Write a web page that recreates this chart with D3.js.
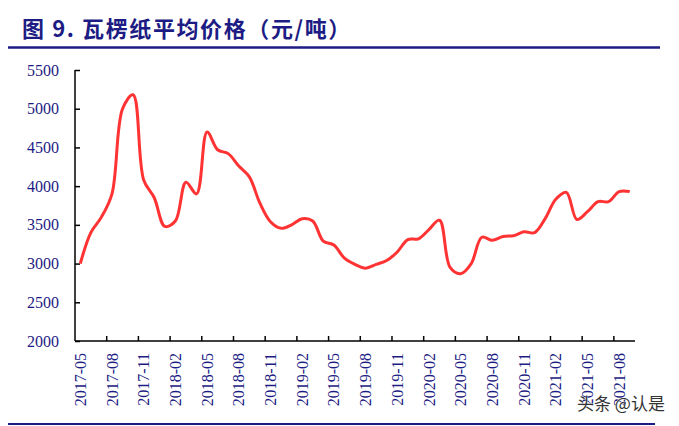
<!DOCTYPE html>
<html>
<head>
<meta charset="utf-8">
<script src="https://cdn.jsdelivr.net/npm/d3@7"></script>
<style>
  body { margin: 0; background: #fff; }
  svg { display: block; }
</style>
</head>
<body>
<div id="chart"></div>
<script>
// monthly average price of corrugated paper, yuan / ton
const months = [
  "2017-05","2017-06","2017-07","2017-08","2017-09","2017-10","2017-11","2017-12",
  "2018-01","2018-02","2018-03","2018-04","2018-05","2018-06","2018-07","2018-08",
  "2018-09","2018-10","2018-11","2018-12","2019-01","2019-02","2019-03","2019-04",
  "2019-05","2019-06","2019-07","2019-08","2019-09","2019-10","2019-11","2019-12",
  "2020-01","2020-02","2020-03","2020-04","2020-05","2020-06","2020-07","2020-08",
  "2020-09","2020-10","2020-11","2020-12","2021-01","2021-02","2021-03","2021-04",
  "2021-05","2021-06","2021-07","2021-08","2021-09"
];
const prices = [
  3000, 3400, 3600, 3900, 5000, 5180, 4080, 3850,
  3480, 3550, 4050, 3900, 4700, 4470, 4420, 4260,
  4120, 3780, 3540, 3455, 3500, 3580, 3550, 3290,
  3240, 3070, 2990, 2940, 2990, 3040, 3150, 3310,
  3320, 3440, 3560, 2950, 2870, 3000, 3340, 3300,
  3350, 3360, 3410, 3400, 3580, 3830, 3920, 3570,
  3670, 3800, 3800, 3930, 3930
];
const yTicks = [2000, 2500, 3000, 3500, 4000, 4500, 5000, 5500];
const title = "图 9. 瓦楞纸平均价格（元/吨）";
const watermark = "头条 @认是";

const width = 679, height = 426;
const plotLeft = 75, plotRight = 635, plotTop = 70, plotBottom = 341;
const navy = "#1c1c84";

const svg = d3.select("#chart").append("svg")
    .attr("width", width)
    .attr("height", height);

// title + rules
svg.append("text")
    .attr("x", 22)
    .attr("y", 37)
    .text(title)
    .style("font-family", "'Noto Sans CJK SC', sans-serif")
    .style("font-weight", "bold")
    .style("font-size", "22px")
    .style("letter-spacing", "1.6px")
    .style("fill", navy);

svg.append("line")
    .attr("x1", 8).attr("x2", 660)
    .attr("y1", 47.5).attr("y2", 47.5)
    .style("stroke", navy)
    .style("stroke-width", 2.5);

svg.append("line")
    .attr("x1", 8).attr("x2", 655)
    .attr("y1", 424).attr("y2", 424)
    .style("stroke", navy)
    .style("stroke-width", 2);

const x = d3.scaleBand()
    .domain(months)
    .range([plotLeft, plotRight])
    .padding(0);

const y = d3.scaleLinear()
    .domain([2000, 5500])
    .range([plotBottom, plotTop]);

const cx = d => x(d) + x.bandwidth() / 2;

// y axis
const yAxis = svg.append("g")
    .attr("class", "yAxis")
    .attr("transform", `translate(${plotLeft},0)`)
    .call(d3.axisRight(y).tickValues(yTicks).tickSize(5).tickFormat(""));
yAxis.select(".domain").attr("d", `M0,${plotTop}V${plotBottom}`);
yAxis.selectAll("path, line").style("stroke", "#000").style("stroke-width", 1.5);

svg.append("g")
    .selectAll("text")
    .data(yTicks)
    .enter().append("text")
    .attr("x", 59)
    .attr("y", d => y(d))
    .attr("dy", "0.35em")
    .text(d => d)
    .style("text-anchor", "end")
    .style("font-family", "'Liberation Serif', serif")
    .style("font-size", "16px")
    .style("fill", navy);

// x axis
const labelled = months.filter((m, i) => i % 3 === 0);

svg.append("line")
    .attr("x1", plotLeft).attr("x2", plotRight)
    .attr("y1", plotBottom).attr("y2", plotBottom)
    .style("stroke", "#000")
    .style("stroke-width", 1.5);

svg.append("g")
    .selectAll("line")
    .data(labelled.slice(1))
    .enter().append("line")
    .attr("x1", d => x(d)).attr("x2", d => x(d))
    .attr("y1", plotBottom).attr("y2", plotBottom - 5)
    .style("stroke", "#000")
    .style("stroke-width", 1.5);

svg.append("g")
    .selectAll("text")
    .data(labelled)
    .enter().append("text")
    .attr("transform", d => `translate(${cx(d)},353) rotate(-90)`)
    .attr("dy", "0.35em")
    .text(d => d)
    .style("text-anchor", "end")
    .style("font-family", "'Liberation Serif', serif")
    .style("font-size", "16px")
    .style("fill", navy);

// price line
const line = d3.line()
    .x((d, i) => cx(months[i]))
    .y(d => y(d))
    .curve(d3.curveCatmullRom.alpha(0.5));

svg.append("path")
    .datum(prices)
    .attr("d", line)
    .style("fill", "none")
    .style("stroke", "#ff3333")
    .style("stroke-width", 3);

// watermark
svg.append("text")
    .attr("x", 577)
    .attr("y", 410)
    .text(watermark)
    .style("font-family", "'Noto Sans CJK SC', sans-serif")
    .style("font-size", "17px")
    .style("fill", "#333")
    .style("stroke", "#fff")
    .style("stroke-width", 0.6)
    .style("paint-order", "stroke");
</script>
</body>
</html>
